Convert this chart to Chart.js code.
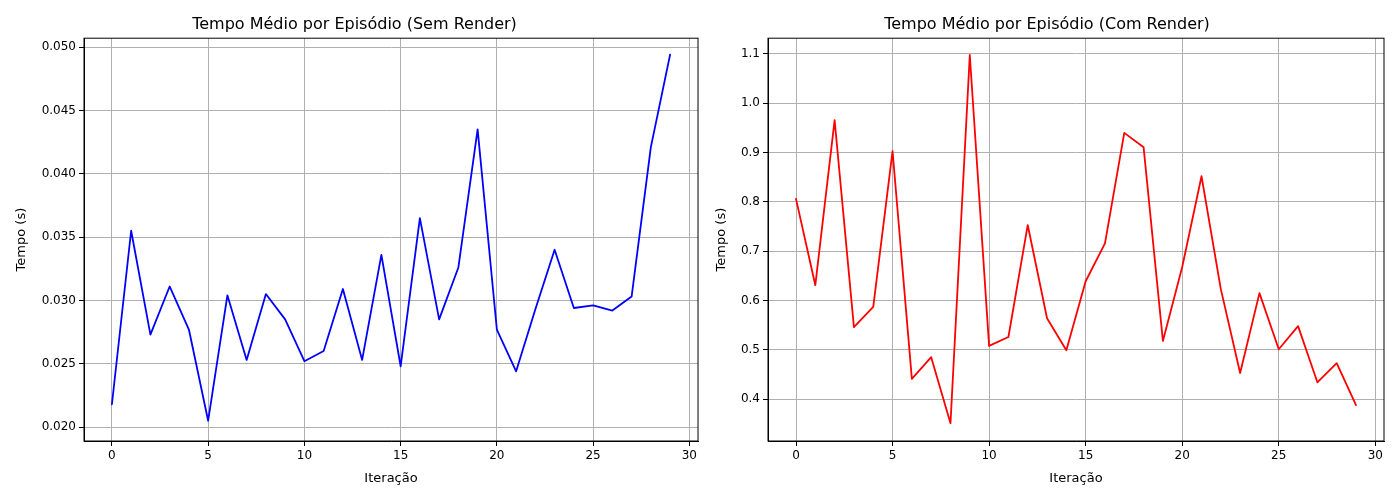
<!DOCTYPE html>
<html><head><meta charset="utf-8">
<script src="https://cdn.jsdelivr.net/npm/chart.js@4.4.0/dist/chart.umd.min.js"></script>
<style>
body{margin:0;background:#fff;width:1400px;height:500px;position:relative;overflow:hidden}
.box{position:absolute;top:0;width:700px;height:500px}
</style></head><body>
<div class="box" style="left:0"><canvas id="c1"></canvas></div>
<div class="box" style="left:700px"><canvas id="c2"></canvas></div>
<script>
const iterations = Array.from({length: 30}, (_, i) => i);
const semRender = [0.0218,0.0355,0.0273,0.0311,0.0277,0.0205,0.0304,0.0253,0.0305,0.0285,
  0.0252,0.0260,0.0309,0.0253,0.0336,0.0248,0.0365,0.0285,0.0326,0.0435,
  0.0277,0.0244,0.0293,0.0340,0.0294,0.0296,0.0292,0.0303,0.0421,0.0494];
const comRender = [0.806,0.631,0.966,0.546,0.587,0.903,0.441,0.485,0.351,1.098,
  0.508,0.526,0.753,0.564,0.499,0.639,0.716,0.940,0.911,0.518,
  0.668,0.852,0.623,0.453,0.615,0.501,0.548,0.434,0.473,0.388];

Chart.defaults.font.family = 'DejaVu Sans';
Chart.defaults.color = '#000';

// full box around the plot area, like matplotlib
const boxPlugin = {
  id: 'box',
  afterDraw(chart) {
    const {ctx, chartArea: a} = chart;
    ctx.save();
    ctx.strokeStyle = '#000';
    ctx.lineWidth = 1;
    ctx.strokeRect(a.left, a.top, a.right - a.left, a.bottom - a.top);
    ctx.restore();
  }
};

function makeChart(id, title, values, color, yMin, yMax, yStep, yWidth, rightPad, decimals) {
  new Chart(document.getElementById(id), {
    type: 'line',
    data: {
      datasets: [{
        data: iterations.map((x, i) => ({x, y: values[i]})),
        borderColor: color, borderWidth: 1.8, pointRadius: 0, tension: 0, fill: false,
        borderJoinStyle: 'round', borderCapStyle: 'round'
      }]
    },
    options: {
      responsive: true, maintainAspectRatio: false, animation: false,
      layout: { padding: { left: 10, right: rightPad, top: 0, bottom: 10 } },
      plugins: {
        legend: { display: false }, tooltip: { enabled: false },
        title: { display: true, text: title, font: { size: 16, weight: 'normal' }, padding: { top: 15, bottom: 4 }, color: '#000' }
      },
      scales: {
        x: {
          type: 'linear', min: -1.45, max: 30.45,
          afterBuildTicks: s => { s.ticks = [0,5,10,15,20,25,30].map(v => ({value: v})); },
          afterFit: s => { s.height = 49; },
          ticks: { font: { size: 12 }, color: '#000' },
          grid: { color: '#b0b0b0', tickColor: '#000', tickLength: 5 },
          border: { color: '#000' },
          title: { display: true, text: 'Iteração', font: { size: 13 }, color: '#000', padding: { top: 2 } }
        },
        y: {
          min: yMin, max: yMax,
          afterBuildTicks: s => {
            const t = [];
            for (let v = Math.ceil(yMin / yStep) * yStep; v <= yMax + 1e-9; v += yStep) t.push({value: +v.toFixed(6)});
            s.ticks = t;
          },
          afterFit: s => { s.width = yWidth; },
          ticks: { font: { size: 12 }, color: '#000', callback: v => v.toFixed(decimals) },
          grid: { color: '#b0b0b0', tickColor: '#000', tickLength: 5 },
          border: { color: '#000' },
          title: { display: true, text: 'Tempo (s)', font: { size: 13 }, color: '#000' }
        }
      }
    },
    plugins: [boxPlugin]
  });
}

makeChart('c1', 'Tempo Médio por Episódio (Sem Render)', semRender, '#0000ff', 0.0189, 0.0507, 0.005, 74, 1, 3);
makeChart('c2', 'Tempo Médio por Episódio (Com Render)', comRender, '#ff0000', 0.315, 1.132, 0.1, 58, 16, 1);
</script>
</body></html>
